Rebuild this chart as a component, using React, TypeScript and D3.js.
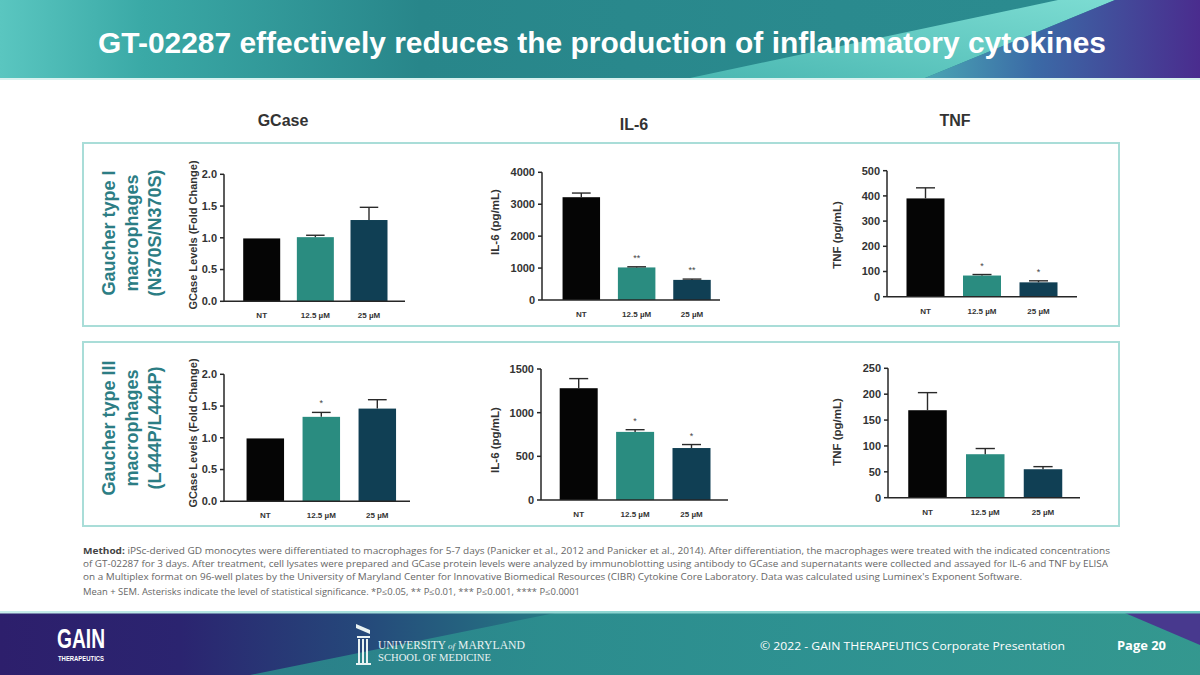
import React from "react";
import * as d3 from "d3";

// ---------- DATA ----------
const categories = ["NT", "12.5 µM", "25 µM"];

const gcaseType1 = [0.99, 1.01, 1.28];
const gcaseType1Err = [0, 0.03, 0.2];
const gcaseType1Stars = ["", "", ""];

const il6Type1 = [3220, 1020, 630];
const il6Type1Err = [130, 20, 25];
const il6Type1Stars = ["", "**", "**"];

const tnfType1 = [390, 84, 57];
const tnfType1Err = [42, 4, 6];
const tnfType1Stars = ["", "*", "*"];

const gcaseType3 = [0.99, 1.33, 1.46];
const gcaseType3Err = [0, 0.07, 0.14];
const gcaseType3Stars = ["", "*", ""];

const il6Type3 = [1280, 780, 595];
const il6Type3Err = [110, 25, 40];
const il6Type3Stars = ["", "*", "*"];

const tnfType3 = [169, 84, 55];
const tnfType3Err = [34, 11, 5];
const tnfType3Stars = ["", "", ""];

const gcaseTicks = [0, 0.5, 1.0, 1.5, 2.0];
const il6Type1Ticks = [0, 1000, 2000, 3000, 4000];
const tnfType1Ticks = [0, 100, 200, 300, 400, 500];
const il6Type3Ticks = [0, 500, 1000, 1500];
const tnfType3Ticks = [0, 50, 100, 150, 200, 250];

const columnTitles = ["GCase", "IL-6", "TNF"];
const rowLabels = [
  ["Gaucher type I", "macrophages", "(N370S/N370S)"],
  ["Gaucher type III", "macrophages", "(L444P/L444P)"],
];
const yAxisTitles = ["GCase Levels (Fold Change)", "IL-6 (pg/mL)", "TNF (pg/mL)"];

const titleText = "GT-02287 effectively reduces the production of inflammatory cytokines";
const methodLines = [
  ["Method:", " iPSc-derived GD monocytes were differentiated to macrophages for 5-7 days (Panicker et al., 2012 and Panicker et al., 2014). After differentiation, the macrophages were treated with the indicated concentrations"],
  ["", "of GT-02287 for 3 days. After treatment, cell lysates were prepared and GCase protein levels were analyzed by immunoblotting using antibody to GCase and supernatants were collected and assayed for IL-6 and TNF by ELISA"],
  ["", "on a Multiplex format on 96-well plates by the University of Maryland Center for Innovative Biomedical Resources (CIBR) Cytokine Core Laboratory. Data was calculated using Luminex's Exponent Software."],
  ["", "Mean + SEM. Asterisks indicate the level of statistical significance. *P≤0.05, ** P≤0.01, *** P≤0.001, **** P≤0.0001"],
];

// ---------- STYLE ----------
const barColors = ["#050505", "#2a8c80", "#103f54"];
const teal = "#2c7d84";
const axisColor = "#262626";
const FONT = "'Liberation Sans', Arial, sans-serif";
const SERIF = "'Liberation Serif', 'DejaVu Serif', serif";

interface PanelProps {
  values: number[];
  errs: number[];
  stars: string[];
  ticks: number[];
  fmt: (v: number) => string;
  axisX: number;
  yTop: number;
  yBot: number;
  axisEnd: number;
  c0: number;
  c1: number;
  barW: number;
  yTitle: string;
  yTitleX: number;
  yTitleY: number;
  yTitleSize: number;
}

function Panel(p: PanelProps) {
  const y = d3.scaleLinear().domain([0, p.ticks[p.ticks.length - 1]]).range([p.yBot, p.yTop]);
  const x = d3.scalePoint<string>().domain(categories).range([p.c0, p.c1]);
  const cap = p.barW * 0.5;
  return (
    <g>
      {p.values.map((v, i) => {
        const cx = x(categories[i])!;
        const top = y(v);
        const eTop = y(v + p.errs[i]);
        return (
          <g key={i}>
            <rect x={cx - p.barW / 2} y={top} width={p.barW} height={p.yBot - top} fill={barColors[i]} />
            {p.errs[i] > 0 && (
              <g stroke="#2a2a2a" strokeWidth={1.4}>
                <line x1={cx} x2={cx} y1={top} y2={eTop} />
                <line x1={cx - cap / 2} x2={cx + cap / 2} y1={eTop} y2={eTop} />
              </g>
            )}
            {p.stars[i] && (
              <text x={cx} y={eTop - 6} textAnchor="middle" fontSize={9} fill="#444" fontFamily={FONT}>
                {p.stars[i]}
              </text>
            )}
            <text x={cx} y={p.yBot + 17} textAnchor="middle" fontSize={8} fontWeight="bold" fill="#333" fontFamily={FONT}>
              {categories[i]}
            </text>
          </g>
        );
      })}
      <line x1={p.axisX} x2={p.axisX} y1={p.yTop} y2={p.yBot} stroke={axisColor} strokeWidth={1.5} />
      <line x1={p.axisX} x2={p.axisEnd} y1={p.yBot} y2={p.yBot} stroke={axisColor} strokeWidth={1.5} />
      {p.ticks.map((t, i) => (
        <g key={i}>
          <line x1={p.axisX - 4} x2={p.axisX} y1={y(t)} y2={y(t)} stroke={axisColor} strokeWidth={1.5} />
          <text x={p.axisX - 7} y={y(t)} dy="0.35em" textAnchor="end" fontSize={11} fontWeight="bold" fill="#333" fontFamily={FONT}>
            {p.fmt(t)}
          </text>
        </g>
      ))}
      <text
        transform={`translate(${p.yTitleX},${p.yTitleY}) rotate(-90)`}
        textAnchor="middle"
        dominantBaseline="central"
        fontSize={p.yTitleSize}
        fontWeight="bold"
        fill="#333"
        fontFamily={FONT}
      >
        {p.yTitle}
      </text>
    </g>
  );
}

export default function App() {
  const f1 = d3.format(".1f");
  const f0 = d3.format("d");
  return (
    <div style={{ position: "fixed", left: 0, top: 0 }}>
      <svg width={1200} height={675} viewBox="0 0 1200 675" style={{ display: "block", background: "#fff" }}>
        <defs>
          <linearGradient id="titleBase" x1="0" x2="1" y1="0" y2="0">
            <stop offset="0" stopColor="#5ac6c0" />
            <stop offset="0.12" stopColor="#3aa9a6" />
            <stop offset="0.35" stopColor="#28868a" />
            <stop offset="0.7" stopColor="#2a8a8e" />
            <stop offset="1" stopColor="#2c8c90" />
          </linearGradient>
          <linearGradient id="titleStripe" x1="0" x2="1" y1="1" y2="0">
            <stop offset="0" stopColor="#4bb8b2" />
            <stop offset="1" stopColor="#7cdcd2" />
          </linearGradient>
          <linearGradient id="titleRight" x1="0" x2="1" y1="0" y2="0">
            <stop offset="0" stopColor="#4aa6b4" />
            <stop offset="0.4" stopColor="#3b6aa6" />
            <stop offset="1" stopColor="#4a2c8e" />
          </linearGradient>
          <linearGradient id="footBase" x1="0" x2="1" y1="0" y2="0">
            <stop offset="0" stopColor="#2d1f6c" />
            <stop offset="0.15" stopColor="#2b2470" />
            <stop offset="0.3" stopColor="#25487a" />
            <stop offset="0.45" stopColor="#257683" />
            <stop offset="0.75" stopColor="#2a8788" />
            <stop offset="1" stopColor="#2f9090" />
          </linearGradient>
          <linearGradient id="footLight" x1="0" x2="1" y1="0" y2="0">
            <stop offset="0" stopColor="#2b8c8c" />
            <stop offset="0.6" stopColor="#2f9493" />
            <stop offset="1" stopColor="#35998f" />
          </linearGradient>
          <linearGradient id="footLine" x1="0" x2="1" y1="0" y2="0">
            <stop offset="0" stopColor="#c8ecea" />
            <stop offset="0.5" stopColor="#8fd6d2" />
            <stop offset="1" stopColor="#6cc9c3" />
          </linearGradient>
        </defs>

        {/* Title bar */}
        <rect x={0} y={0} width={1200} height={78} fill="url(#titleBase)" />
        <polygon points="690,78 925,78 1115,0 1058,0" fill="url(#titleStripe)" />
        <polygon points="925,78 1200,78 1200,0 1115,0" fill="url(#titleRight)" />
        <rect x={0} y={78} width={1200} height={2} fill="#d9f1ef" />
        <text x={602} y={53} textAnchor="middle" fill="#fff" fontSize={29} fontWeight="bold" fontFamily={FONT} textLength={1008} lengthAdjust="spacingAndGlyphs">
          {titleText}
        </text>

        {/* Column titles */}
        <text x={283} y={126} textAnchor="middle" fontSize={16} fontWeight="bold" fill="#333" fontFamily={FONT}>{columnTitles[0]}</text>
        <text x={634} y={130} textAnchor="middle" fontSize={16} fontWeight="bold" fill="#333" fontFamily={FONT}>{columnTitles[1]}</text>
        <text x={955} y={126} textAnchor="middle" fontSize={16} fontWeight="bold" fill="#333" fontFamily={FONT}>{columnTitles[2]}</text>

        {/* Panel frames */}
        <rect x={83} y={143} width={1036} height={183} fill="none" stroke="#a9ddd8" strokeWidth={2} />
        <rect x={83} y={342} width={1036} height={184} fill="none" stroke="#a9ddd8" strokeWidth={2} />

        {/* Row labels */}
        {rowLabels.map((lines, r) =>
          lines.map((l, i) => (
            <text
              key={`${r}-${i}`}
              transform={`translate(${109 + i * 23},${r === 0 ? 233 : 428}) rotate(-90)`}
              textAnchor="middle"
              dominantBaseline="central"
              fontSize={18}
              fontWeight="bold"
              fill={teal}
              fontFamily={FONT}
            >
              {l}
            </text>
          ))
        )}

        {/* Top row */}
        <Panel values={gcaseType1} errs={gcaseType1Err} stars={gcaseType1Stars} ticks={gcaseTicks} fmt={f1}
          axisX={224} yTop={174.3} yBot={301.3} axisEnd={405} c0={261.7} c1={369} barW={37}
          yTitle={yAxisTitles[0]} yTitleX={193} yTitleY={235} yTitleSize={11} />
        <Panel values={il6Type1} errs={il6Type1Err} stars={il6Type1Stars} ticks={il6Type1Ticks} fmt={f0}
          axisX={542} yTop={172.3} yBot={300} axisEnd={720} c0={581.3} c1={692} barW={37.5}
          yTitle={yAxisTitles[1]} yTitleX={495} yTitleY={222} yTitleSize={11.5} />
        <Panel values={tnfType1} errs={tnfType1Err} stars={tnfType1Stars} ticks={tnfType1Ticks} fmt={f0}
          axisX={887} yTop={170.7} yBot={296.7} axisEnd={1077} c0={925.5} c1={1038.5} barW={38}
          yTitle={yAxisTitles[2]} yTitleX={837} yTitleY={235} yTitleSize={11.5} />

        {/* Bottom row */}
        <Panel values={gcaseType3} errs={gcaseType3Err} stars={gcaseType3Stars} ticks={gcaseTicks} fmt={f1}
          axisX={224} yTop={374.3} yBot={501.3} axisEnd={410} c0={265.3} c1={377.3} barW={37.5}
          yTitle={yAxisTitles[0]} yTitleX={193} yTitleY={433} yTitleSize={11} />
        <Panel values={il6Type3} errs={il6Type3Err} stars={il6Type3Stars} ticks={il6Type3Ticks} fmt={f0}
          axisX={541} yTop={369} yBot={500} axisEnd={728} c0={578.7} c1={691.5} barW={38}
          yTitle={yAxisTitles[1]} yTitleX={495} yTitleY={440} yTitleSize={11.5} />
        <Panel values={tnfType3} errs={tnfType3Err} stars={tnfType3Stars} ticks={tnfType3Ticks} fmt={f0}
          axisX={888} yTop={368.3} yBot={497.7} axisEnd={1080} c0={927.5} c1={1043} barW={38.5}
          yTitle={yAxisTitles[2]} yTitleX={837} yTitleY={432} yTitleSize={11.5} />

        {/* Method text */}
        {methodLines.map((l, i) => {
          const widths = [1027, 1025, 939, 497];
          const ys = [554, 567, 580, 595];
          return (
            <text key={i} x={83} y={ys[i]} fontSize={8.3} fill="#666" fontFamily="'Open Sans', 'Noto Sans', sans-serif" textLength={widths[i]} lengthAdjust="spacingAndGlyphs">
              {l[0] && <tspan fontWeight="bold" fill="#444">{l[0]}</tspan>}
              {l[1]}
            </text>
          );
        })}

        {/* Footer */}
        <rect x={0} y={613} width={1200} height={62} fill="url(#footBase)" />
        <polygon points="250,675 555,613 1200,613 1200,675" fill="url(#footLight)" opacity={0.85} />
        <polygon points="1125,613 1200,613 1200,645" fill="#4a2f8e" opacity={0.9} />
        <rect x={0} y={611} width={1200} height={2.5} fill="url(#footLine)" />
        <text x={57} y={648} fill="#fff" fontSize={27} fontWeight="bold" fontFamily={FONT} textLength={48} lengthAdjust="spacingAndGlyphs">GAIN</text>
        <text x={58} y={661} fill="#fff" fontSize={7} fontWeight="bold" fontFamily={FONT} textLength={46} lengthAdjust="spacingAndGlyphs">THERAPEUTICS</text>

        {/* UMD logo */}
        <g fill="#e8f2f2">
          <path d="M356,624 L370,630 L370,634 L356,628 Z" />
          <rect x={357} y={636} width={13} height={2} />
          <rect x={358} y={639} width={2} height={24} />
          <rect x={362} y={639} width={2} height={24} />
          <rect x={366} y={639} width={2} height={24} />
          <rect x={356} y={663} width={15} height={2} />
        </g>
        <text x={378} y={649} fill="#e8f2f2" fontSize={12} fontFamily={SERIF} textLength={68} lengthAdjust="spacingAndGlyphs">UNIVERSITY</text>
        <text x={448} y={649} fill="#e8f2f2" fontSize={9} fontStyle="italic" fontFamily={SERIF}>of</text>
        <text x={458} y={649} fill="#e8f2f2" fontSize={12} fontFamily={SERIF} textLength={67} lengthAdjust="spacingAndGlyphs">MARYLAND</text>
        <text x={378} y={661} fill="#e8f2f2" fontSize={10} fontFamily={SERIF} textLength={113} lengthAdjust="spacingAndGlyphs">
          SCHOOL OF MEDICINE
        </text>

        <text x={760} y={650} fill="#fff" fontSize={11} fontFamily="'Open Sans', 'Noto Sans', sans-serif" textLength={305} lengthAdjust="spacingAndGlyphs">
          © 2022 - GAIN THERAPEUTICS Corporate Presentation
        </text>
        <text x={1117} y={650} fill="#fff" fontSize={12} fontWeight="bold" fontFamily="'Open Sans', 'Noto Sans', sans-serif" textLength={49} lengthAdjust="spacingAndGlyphs">
          Page 20
        </text>
      </svg>
    </div>
  );
}
